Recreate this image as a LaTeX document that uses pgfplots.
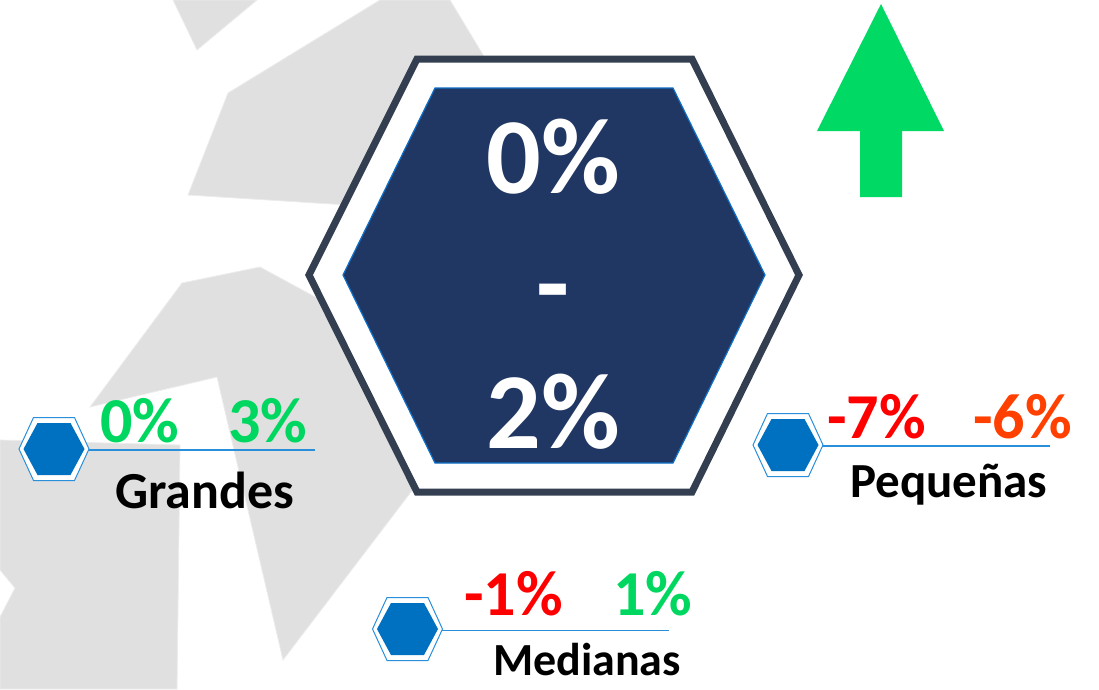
\documentclass[border=0pt]{standalone}
\usepackage{pgfplots}
\pgfplotsset{compat=1.18}
\usepackage{fontspec}
\setmainfont{Carlito}
\definecolor{bggray}{HTML}{E0E0E0}
\definecolor{hexborder}{HTML}{333F50}
\definecolor{hexfill}{HTML}{213763}
\definecolor{hexline}{HTML}{0E70C8}
\definecolor{mblue}{HTML}{0070C0}
\definecolor{lblue}{HTML}{2A8FDA}
\definecolor{pgreen}{HTML}{00D760}
\definecolor{pred}{HTML}{FF0000}
\definecolor{porange}{HTML}{FF4000}
\definecolor{agreen}{HTML}{00D964}
\begin{document}
\begin{tikzpicture}
\useasboundingbox (0,0) rectangle (1099pt,689pt);
\begin{axis}[
  at={(0,0)}, anchor=south west,
  width=1099pt, height=689pt, scale only axis,
  xmin=0, xmax=1099, ymin=0, ymax=689, y dir=reverse,
  hide axis, clip=true, no markers,
]
% background grey shapes
\addplot[fill=bggray, draw=white!85!gray, line width=0.8pt] coordinates {(173,0) (197,50) (257,0)} -- cycle;
\addplot[fill=bggray, draw=white!85!gray, line width=0.8pt] coordinates {(228,93) (380,0) (450,0) (500,83) (470,200) (380,207) (188,195)} -- cycle;
\addplot[fill=bggray, draw=white!85!gray, line width=0.8pt] coordinates {(182,283) (260,267) (330,305) (450,450) (433,463) (283,660) (217,377) (90,407)} -- cycle;
\addplot[fill=bggray, draw=white!85!gray, line width=0.8pt] coordinates {(0,440) (180,445) (177,689) (0,689) (0,617) (15,588) (0,570)} -- cycle;
% big hexagon
\addplot[fill=white, draw=hexborder, line width=7pt, line join=miter] coordinates {(417,59) (692,59) (799,275) (692,492) (417,492) (309,275)} -- cycle;
\addplot[fill=hexfill, draw=hexline, line width=1.2pt] coordinates {(435,88) (673,88) (765,275) (673,463) (435,463) (343,275)} -- cycle;
% arrow
\addplot[fill=agreen, draw=none] coordinates {(881,4) (944,131) (902,131) (902,197) (860,197) (860,131) (817,131)} -- cycle;
% small hexagons
\addplot[fill=white, draw=lblue, line width=1pt] coordinates {(33.5,417.5) (74.5,417.5) (89,449) (74.5,480.5) (33.5,480.5) (19,449)} -- cycle;
\addplot[fill=mblue, draw=none] coordinates {(37.5,423) (70.5,423) (84.5,449) (70.5,475) (37.5,475) (23.5,449)} -- cycle;
\addplot[draw=lblue, line width=1.2pt] coordinates {(89,450) (315,450)};
\addplot[fill=white, draw=lblue, line width=1pt] coordinates {(767.5,413.5) (808.5,413.5) (823,445) (808.5,476.5) (767.5,476.5) (753,445)} -- cycle;
\addplot[fill=mblue, draw=none] coordinates {(771.5,419) (804.5,419) (818.5,445) (804.5,471) (771.5,471) (757.5,445)} -- cycle;
\addplot[draw=lblue, line width=1.2pt] coordinates {(823,446) (1050,446)};
\addplot[fill=white, draw=lblue, line width=1pt] coordinates {(387,597.5) (428,597.5) (442.5,629) (428,660.5) (387,660.5) (372.5,629)} -- cycle;
\addplot[fill=mblue, draw=none] coordinates {(391,603) (424,603) (438,629) (424,655) (391,655) (377,629)} -- cycle;
\addplot[draw=lblue, line width=1.2pt] coordinates {(442,630.5) (669,630.5)};
% texts
\node[anchor=base, inner sep=0, text=white, font=\fontsize{108}{108}\selectfont\bfseries] at (axis cs:553,193) {0\%};
\node[anchor=base, inner sep=0, text=white, font=\fontsize{108}{108}\selectfont\bfseries] at (axis cs:553,320) {-};
\node[anchor=base, inner sep=0, text=white, font=\fontsize{108}{108}\selectfont\bfseries] at (axis cs:553,448) {2\%};
\node[anchor=base west, inner sep=0, text=pgreen, font=\fontsize{64}{64}\selectfont\bfseries] at (axis cs:100,442) {0\%};
\node[anchor=base west, inner sep=0, text=pgreen, font=\fontsize{64}{64}\selectfont\bfseries] at (axis cs:228,442) {3\%};
\node[anchor=base west, inner sep=0, text=black, font=\fontsize{52}{52}\selectfont\bfseries] at (axis cs:115,508) {Grandes};
\node[anchor=base west, inner sep=0, text=pred, font=\fontsize{64}{64}\selectfont\bfseries] at (axis cs:827,438) {-7\%};
\node[anchor=base west, inner sep=0, text=porange, font=\fontsize{64}{64}\selectfont\bfseries] at (axis cs:973,438) {-6\%};
\node[anchor=base west, inner sep=0, text=black, font=\fontsize{49}{49}\selectfont\bfseries] at (axis cs:850,497) {Pequeñas};
\node[anchor=base west, inner sep=0, text=pred, font=\fontsize{64}{64}\selectfont\bfseries] at (axis cs:464,615) {-1\%};
\node[anchor=base west, inner sep=0, text=pgreen, font=\fontsize{64}{64}\selectfont\bfseries] at (axis cs:613,615) {1\%};
\node[anchor=base west, inner sep=0, text=black, font=\fontsize{46}{46}\selectfont\bfseries] at (axis cs:493,675) {Medianas};
\end{axis}
\end{tikzpicture}
\end{document}
